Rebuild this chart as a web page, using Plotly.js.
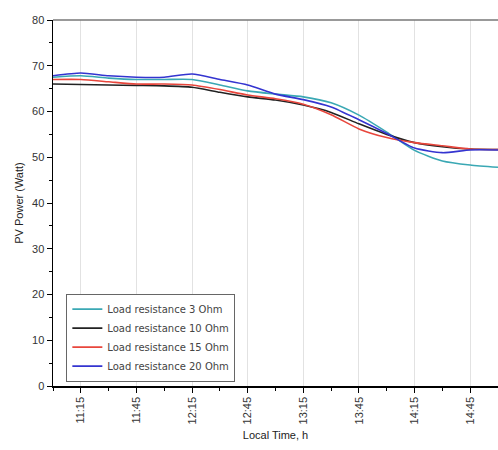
<!DOCTYPE html>
<html>
<head>
<meta charset="utf-8">
<script src="https://cdn.plot.ly/plotly-3.0.1.min.js"></script>
<style>html,body{margin:0;padding:0;background:#fff;}#chart{width:498px;height:450px;}</style>
</head>
<body>
<div id="chart"></div>
<script>
var times = ["11:00","11:15","11:30","11:45","12:00","12:15","12:30","12:45","13:00","13:15","13:30","13:45","14:00","14:15","14:30","14:45","15:00"];
var ohm3  = [67.5,67.8,67.3,67.0,67.0,67.0,65.8,64.5,63.8,63.2,61.9,59.2,55.5,51.5,49.2,48.3,47.8];
var ohm10 = [66.0,65.9,65.8,65.7,65.6,65.3,64.2,63.2,62.5,61.4,59.8,57.3,55.0,53.2,52.3,51.8,51.7];
var ohm15 = [67.0,67.0,66.5,66.0,66.0,65.8,64.8,63.6,62.8,61.6,59.3,56.2,54.3,53.2,52.5,51.8,51.7];
var ohm20 = [67.8,68.4,67.8,67.5,67.5,68.2,67.0,65.8,63.8,62.6,61.0,58.2,55.2,52.0,51.0,51.6,51.6];
var names = ["Load resistance 3 Ohm","Load resistance 10 Ohm","Load resistance 15 Ohm","Load resistance 20 Ohm"];
var colors = ["#3aa8b4","#222222","#e8463c","#3434d0"];
var series = [ohm3, ohm10, ohm15, ohm20];

var xs = times.map(function(t){ return "2000-01-01 " + t; });
var traces = series.map(function(s, i){
  return {x: xs, y: s, type: "scatter", mode: "lines", name: names[i],
          line: {color: colors[i], width: 1.6, shape: "spline", smoothing: 0.6}};
});

var layout = {
  width: 498, height: 450,
  margin: {l: 53, r: 0, t: 20, b: 64},
  paper_bgcolor: "#fff", plot_bgcolor: "#fff",
  font: {family: "Liberation Sans, Arial, sans-serif", size: 11, color: "#333"},
  showlegend: true,
  legend: {x: 0.03, y: 0.012, xanchor: "left", yanchor: "bottom",
           bordercolor: "#666", borderwidth: 1, bgcolor: "#fff",
           font: {family: "DejaVu Sans, sans-serif", size: 10, color: "#444"}, tracegroupgap: 0},
  xaxis: {
    type: "date", range: ["2000-01-01 11:00", "2000-01-01 15:00"],
    tick0: "2000-01-01 11:15", dtick: 1800000, tickformat: "%H:%M",
    tickangle: -90, ticks: "outside", ticklen: 5, tickcolor: "#000",
    showgrid: true, gridcolor: "#e2e2e2", gridwidth: 1,
    showline: true, linecolor: "#000", linewidth: 1.5, zeroline: false,
    minor: {dtick: 900000, tick0: "2000-01-01 11:00", ticks: "outside", ticklen: 3, tickcolor: "#000", showgrid: false},
    title: {text: "Local Time, h", font: {size: 11, color: "#222"}, standoff: 8}
  },
  yaxis: {
    range: [0, 80], dtick: 10, tick0: 0,
    ticks: "outside", ticklen: 5, tickcolor: "#000",
    showgrid: false, showline: true, linecolor: "#000", linewidth: 1.5, zeroline: false,
    minor: {dtick: 5, ticks: "outside", ticklen: 3, tickcolor: "#000", showgrid: false},
    title: {text: "PV Power (Watt)", font: {size: 11, color: "#222"}, standoff: 6}
  },
  shapes: [{type: "line", xref: "paper", yref: "paper", x0: 0, x1: 1, y0: 1, y1: 1,
            line: {color: "#777", width: 1.5}}]
};
Plotly.newPlot("chart", traces, layout, {displayModeBar: false, staticPlot: true});
</script>
</body>
</html>
